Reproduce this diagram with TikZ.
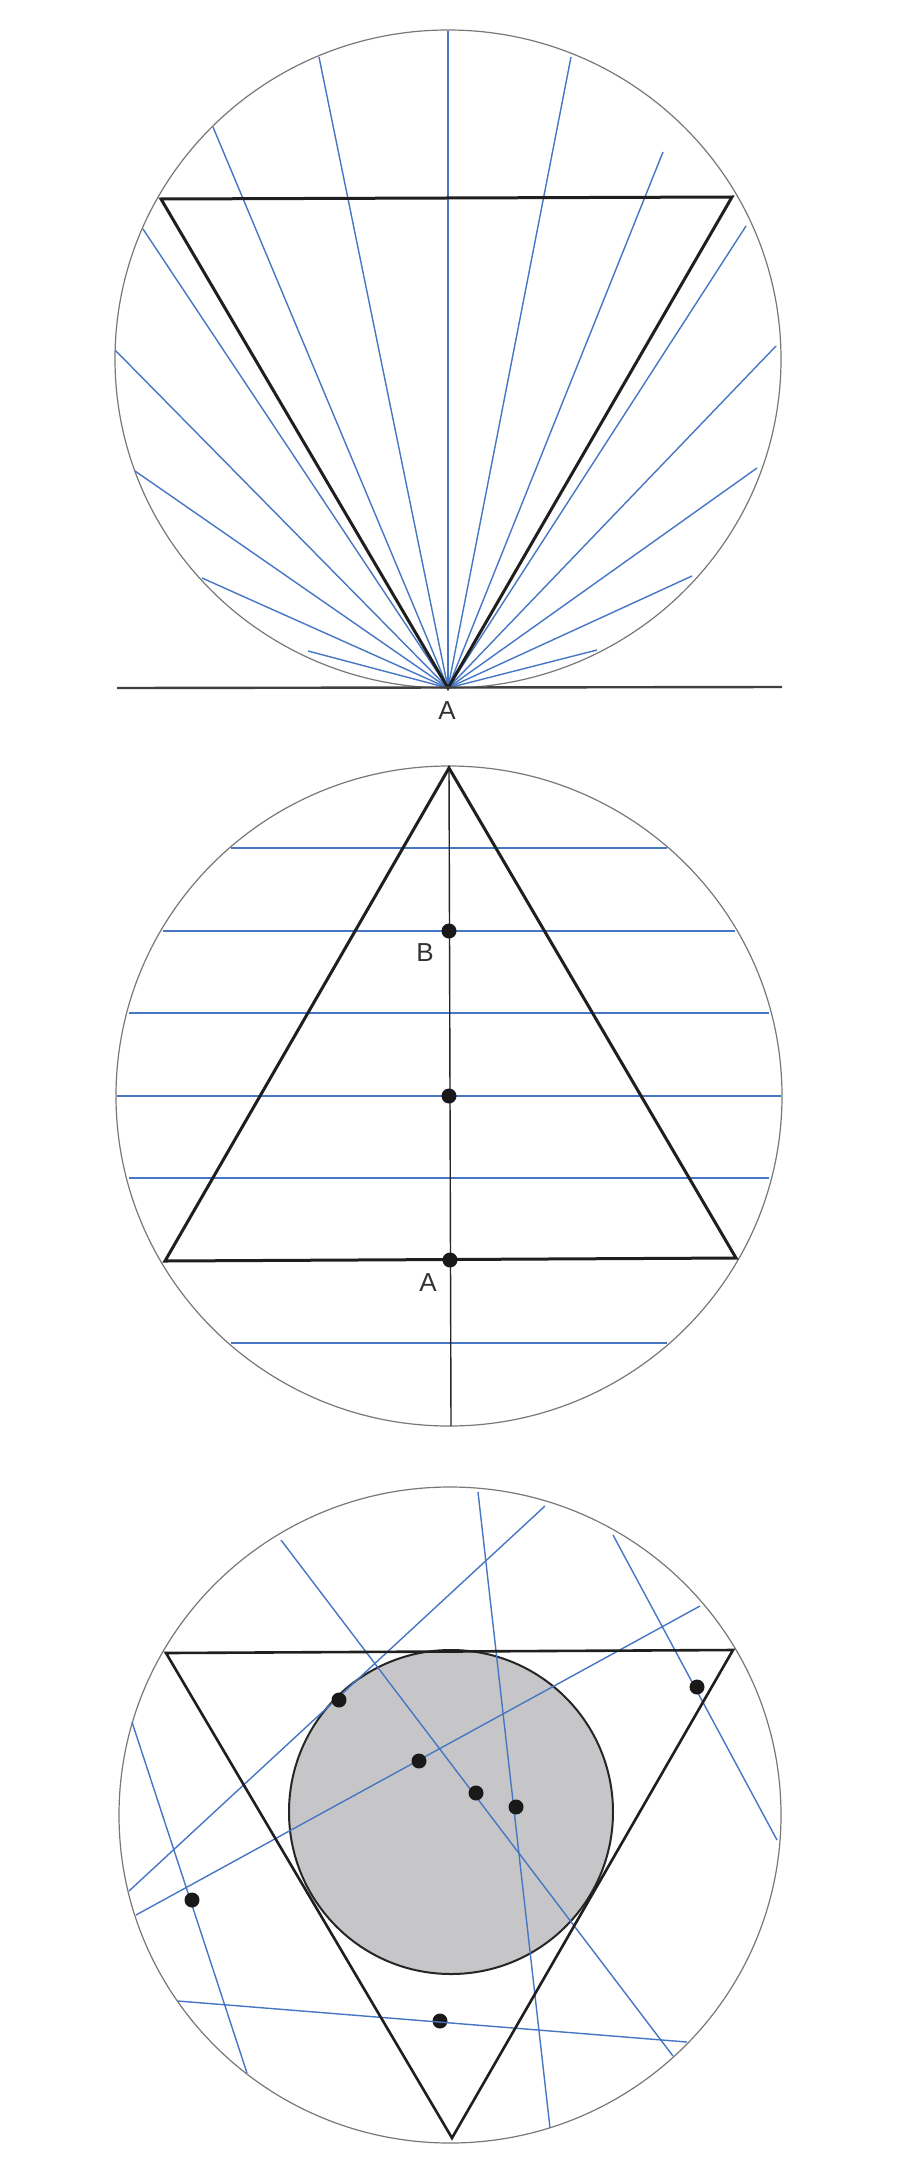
\documentclass[tikz,border=0pt]{standalone}
\usepackage{fontspec}
\setmainfont{Liberation Sans}
\definecolor{blueline}{RGB}{70,118,196}
\definecolor{rimgray}{RGB}{120,120,120}
\definecolor{diskgray}{RGB}{198,198,200}
\begin{document}
\begin{tikzpicture}[x=1pt,y=-1pt,
  rim/.style={draw=rimgray, line width=1.2pt},
  ray/.style={draw=blueline, line width=1.4pt},
  chord/.style={draw=blueline, line width=2pt},
  tri/.style={draw=black!88, line width=3pt, line join=miter},
  axis/.style={draw=black!85, line width=1.4pt},
  tangent/.style={draw=black!75, line width=2.4pt},
  dot/.style={circle, fill=black!90, inner sep=0pt, minimum size=15pt},
  lab/.style={font=\fontsize{26}{26}\selectfont, text=black!80, inner sep=0pt}]
\fill[white] (0,0) rectangle (900,2178);
\useasboundingbox (0,0) rectangle (900,2178);

% ---------------- Panel 1 ----------------
\coordinate (O1) at (448,359);
\coordinate (A1) at (448,688);
\draw[rim] (O1) ellipse[x radius=333pt, y radius=329pt];
\foreach \p in {(319,57),(213,127),(143,229),(115,350),(135,471),(202,578),(308,651),
                (448,31),
                (571,57),(663,152),(746,226),(776,346),(757,468),(692,576),(597,650)}
  \draw[ray] (A1) -- \p;
\coordinate (T1a) at (161,199);
\coordinate (T1b) at (732,197);
\draw[tri] (T1a) -- (T1b) -- (A1) -- cycle;
\coordinate (L1a) at (117,688);
\coordinate (L1b) at (782,687);
\draw[tangent] (L1a) -- (L1b);
\node[lab] (labA1) at (447,711) {A};

% ---------------- Panel 2 ----------------
\coordinate (O2) at (449,1096);
\draw[rim] (O2) ellipse[x radius=333pt, y radius=330pt];
\foreach \y/\h in {848/218, 931/286, 1013/320, 1096/332, 1178/320, 1343/218}
  \draw[chord] ({449-\h},\y) -- ({449+\h},\y);
\coordinate (V2a) at (449,766);
\coordinate (V2b) at (451,1426);
\draw[axis] (V2a) -- (V2b);
\coordinate (T2a) at (449,768);
\coordinate (T2b) at (165,1261);
\coordinate (T2c) at (736,1258);
\draw[tri] (T2a) -- (T2b) -- (T2c) -- cycle;
\node[dot] (B2) at (449,931) {};
\node[dot] (C2) at (449,1096) {};
\node[dot] (A2) at (450,1260) {};
\node[lab] (labB2) at (425,953) {B};
\node[lab] (labA2) at (428,1283) {A};

% ---------------- Panel 3 ----------------
\coordinate (O3) at (450,1815);
\draw[rim] (O3) ellipse[x radius=331pt, y radius=328pt];
\draw[fill=diskgray, draw=black!85, line width=2pt] (451,1812) circle[radius=162pt];
\node[dot] (D7) at (440,2021) {};
\coordinate (P1a) at (478,1492); \coordinate (P1b) at (550,2128);
\coordinate (P2a) at (281,1540); \coordinate (P2b) at (673,2056);
\coordinate (P3a) at (545,1506); \coordinate (P3b) at (129,1891);
\coordinate (P4a) at (700,1606); \coordinate (P4b) at (136,1915);
\coordinate (P5a) at (613,1535); \coordinate (P5b) at (777,1840);
\coordinate (P6a) at (132,1722); \coordinate (P6b) at (247,2073);
\coordinate (P7a) at (178,2001); \coordinate (P7b) at (687,2042);
\foreach \i in {1,...,7}
  \draw[ray] (P\i a) -- (P\i b);
\coordinate (T3a) at (166,1653);
\coordinate (T3b) at (733,1650);
\coordinate (T3c) at (452,2138);
\draw[tri, line width=2.6pt] (T3a) -- (T3b) -- (T3c) -- cycle;
\node[dot] (D1) at (516,1807) {};
\node[dot] (D2) at (476,1793) {};
\node[dot] (D3) at (339,1700) {};
\node[dot] (D4) at (419,1761) {};
\node[dot] (D5) at (697,1687) {};
\node[dot] (D6) at (192,1900) {};
\end{tikzpicture}
\end{document}
